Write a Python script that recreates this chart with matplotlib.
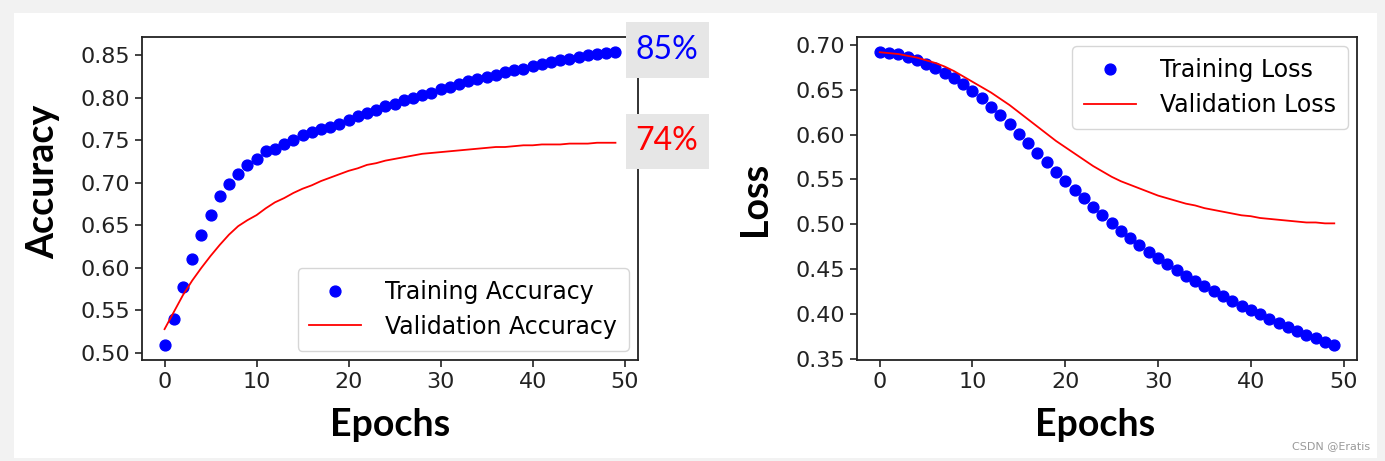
import matplotlib

matplotlib.use("Agg")
import matplotlib.pyplot as plt
from matplotlib.patches import Rectangle
import numpy as np

epochs = np.arange(50)

train_acc = [
    0.509, 0.540, 0.577, 0.610, 0.639, 0.662, 0.685, 0.699, 0.710, 0.721,
    0.728, 0.737, 0.740, 0.745, 0.750, 0.756, 0.760, 0.763, 0.766, 0.769,
    0.774, 0.778, 0.782, 0.785, 0.790, 0.793, 0.797, 0.800, 0.803, 0.806,
    0.810, 0.812, 0.816, 0.819, 0.822, 0.824, 0.827, 0.830, 0.832, 0.834,
    0.837, 0.840, 0.842, 0.844, 0.845, 0.848, 0.850, 0.851, 0.853, 0.854,
]
val_acc = [
    0.528, 0.548, 0.568, 0.585, 0.600, 0.614, 0.627, 0.639, 0.649, 0.656,
    0.662, 0.670, 0.677, 0.682, 0.688, 0.693, 0.697, 0.702, 0.706, 0.710,
    0.714, 0.717, 0.721, 0.723, 0.726, 0.728, 0.730, 0.732, 0.734, 0.735,
    0.736, 0.737, 0.738, 0.739, 0.740, 0.741, 0.742, 0.742, 0.743, 0.744,
    0.744, 0.745, 0.745, 0.745, 0.746, 0.746, 0.746, 0.747, 0.747, 0.747,
]
train_loss = [
    0.6926, 0.6915, 0.6896, 0.6870, 0.6833, 0.6792, 0.6743, 0.6692, 0.6631, 0.6564,
    0.6490, 0.6405, 0.6312, 0.6215, 0.6114, 0.6006, 0.5902, 0.5798, 0.5690, 0.5581,
    0.5481, 0.5380, 0.5290, 0.5195, 0.5101, 0.5016, 0.4930, 0.4844, 0.4770, 0.4696,
    0.4625, 0.4558, 0.4491, 0.4427, 0.4368, 0.4308, 0.4252, 0.4196, 0.4145, 0.4092,
    0.4044, 0.3995, 0.3947, 0.3902, 0.3858, 0.3813, 0.3768, 0.3727, 0.3690, 0.3649,
]
val_loss = [
    0.692, 0.691, 0.690, 0.688, 0.686, 0.683, 0.680, 0.676, 0.671, 0.665,
    0.659, 0.653, 0.647, 0.640, 0.633, 0.625, 0.617, 0.609, 0.601, 0.593,
    0.586, 0.579, 0.572, 0.565, 0.559, 0.553, 0.548, 0.544, 0.540, 0.536,
    0.532, 0.529, 0.526, 0.523, 0.521, 0.518, 0.516, 0.514, 0.512, 0.510,
    0.509, 0.507, 0.506, 0.505, 0.504, 0.503, 0.502, 0.502, 0.501, 0.501,
]
final_labels = ["85%", "74%"]

W, H = 1385, 461
plt.rcParams["font.family"] = "DejaVu Sans"

fig = plt.figure(figsize=(W / 100, H / 100), dpi=100)
fig.patch.set_facecolor("#f2f2f2")
fig.add_artist(Rectangle((14 / W, 1 - 458 / H), (1377 - 14) / W, (458 - 13) / H,
                         transform=fig.transFigure, facecolor="white",
                         edgecolor="none", zorder=-10))


def px_axes(x0, x1, y0, y1):
    return fig.add_axes([x0 / W, 1 - y1 / H, (x1 - x0) / W, (y1 - y0) / H])


ax1 = px_axes(142, 638, 37, 360)
ax2 = px_axes(857, 1357, 37, 360)

ax1.plot(epochs, train_acc, "o", color="blue", markersize=7.8, label="Training Accuracy")
ax1.plot(epochs, val_acc, "-", color="red", linewidth=1.3, label="Validation Accuracy")
ax2.plot(epochs, train_loss, "o", color="blue", markersize=7.8, label="Training Loss")
ax2.plot(epochs, val_loss, "-", color="red", linewidth=1.3, label="Validation Loss")

ax1.set_yticks(np.arange(0.50, 0.851, 0.05))
ax2.set_yticks(np.arange(0.35, 0.701, 0.05))

label_font = {"family": "Lato", "weight": "bold", "size": 27}
for ax, ylab in ((ax1, "Accuracy"), (ax2, "Loss")):
    ax.set_xticks([0, 10, 20, 30, 40, 50])
    ax.tick_params(labelsize=16, length=5, width=1.2, colors="#222222",
                   labelcolor="#222222")
    for spine in ax.spines.values():
        spine.set_linewidth(1.3)
        spine.set_color("#222222")
    ax.set_xlabel("Epochs", fontdict=label_font)
    ax.set_ylabel(ylab, fontdict=label_font)

ax1.xaxis.set_label_coords(0.5, (360 - 408) / 323)
ax2.xaxis.set_label_coords((1095 - 857) / 500, (360 - 408) / 323)
ax1.yaxis.set_label_coords((60 - 142) / 496, (360 - 182) / 323)
ax2.yaxis.set_label_coords((772 - 857) / 500, 0.5)

legend_opts = dict(fontsize=17, handlelength=2.2, labelspacing=0.45,
                   borderpad=0.5, borderaxespad=0.4, handletextpad=1.0)
ax1.legend(loc="lower right", **legend_opts)
ax2.legend(loc="upper right", **legend_opts)

# final value tags on the right of the accuracy panel
for (y0, y1), text, color in zip(((22, 78), (114, 169)), final_labels, ("blue", "red")):
    fig.add_artist(Rectangle((626 / W, 1 - y1 / H), 83 / W, (y1 - y0) / H,
                             transform=fig.transFigure, facecolor="#e6e6e6",
                             edgecolor="none", zorder=5))
    fig.text(667 / W, 1 - (y0 + y1) / 2 / H, text, color=color, fontsize=23,
             family="Lato", ha="center", va="center", zorder=6)

fig.text(1370 / W, 1 - 446 / H, "CSDN @Eratis", color="#9a9a9a", fontsize=8,
         ha="right", va="center")

fig.savefig("out.png", dpi=100, facecolor=fig.get_facecolor())
